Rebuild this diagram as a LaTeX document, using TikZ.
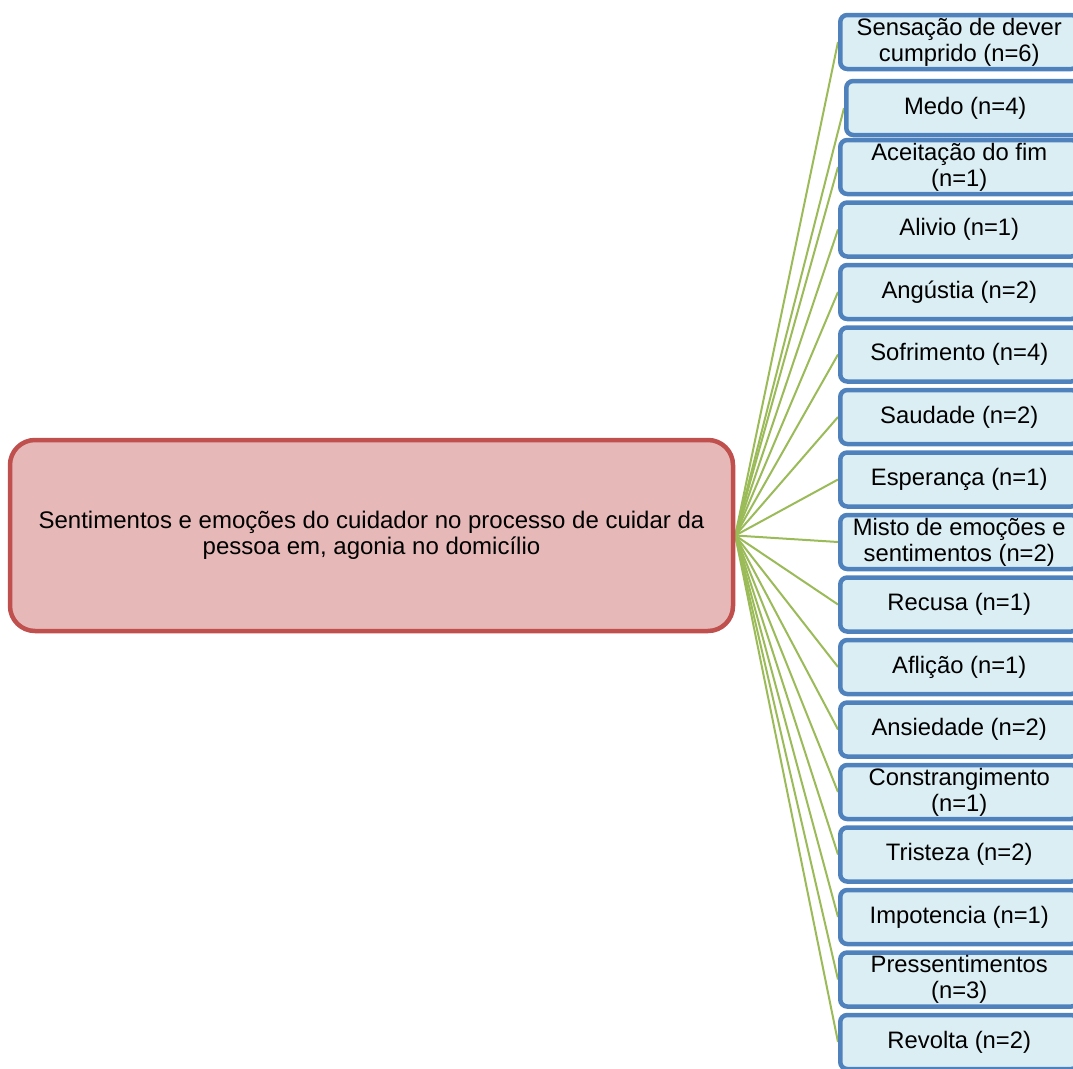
\documentclass[tikz,border=0pt]{standalone}
\usepackage{fontspec}
\setmainfont{Liberation Sans}
\definecolor{mainred}{HTML}{C0504D}
\definecolor{mainfill}{HTML}{E6B9B8}
\definecolor{leafblue}{HTML}{4F81BD}
\definecolor{leaffill}{HTML}{DBEEF4}
\definecolor{linkgreen}{HTML}{9BBB59}
\pgfdeclarelayer{bg}
\pgfsetlayers{bg,main}
\begin{document}
\begin{tikzpicture}[x=1pt,y=-1pt,
  mainbox/.style={draw=mainred, line width=4.5pt, fill=mainfill, rounded corners=25pt,
    minimum width=723pt, minimum height=191pt, align=center, inner sep=0pt,
    font=\fontsize{24}{25.5}\selectfont},
  leaf/.style={draw=leafblue, line width=4.5pt, fill=leaffill, rounded corners=7pt,
    minimum width=238pt, minimum height=54pt, align=center, inner sep=0pt, anchor=west,
    font=\fontsize{23.8}{26}\selectfont},
  link/.style={draw=linkgreen, line width=2pt}]
\useasboundingbox (0,0) rectangle (1073,1068);
\node[mainbox] (c) at (371.5,535.5) {Sentimentos e emoções do cuidador no processo de cuidar da\\pessoa em, agonia no domicílio};
\node[leaf] (l1) at (838,42) {Sensação de dever\\cumprido (n=6)};
\node[leaf] (l2) at (844,108) {Medo (n=4)};
\node[leaf] (l3) at (838,167) {Aceitação do fim\\(n=1)};
\node[leaf] (l4) at (838,229.5) {Alivio (n=1)};
\node[leaf] (l5) at (838,292) {Angústia (n=2)};
\node[leaf] (l6) at (838,354.5) {Sofrimento (n=4)};
\node[leaf] (l7) at (838,417) {Saudade (n=2)};
\node[leaf] (l8) at (838,479.5) {Esperança (n=1)};
\node[leaf] (l9) at (838,542) {Misto de emoções e\\sentimentos (n=2)};
\node[leaf] (l10) at (838,604.5) {Recusa (n=1)};
\node[leaf] (l11) at (838,667) {Aflição (n=1)};
\node[leaf] (l12) at (838,729.5) {Ansiedade (n=2)};
\node[leaf] (l13) at (838,792) {Constrangimento\\(n=1)};
\node[leaf] (l14) at (838,854.5) {Tristeza (n=2)};
\node[leaf] (l15) at (838,917) {Impotencia (n=1)};
\node[leaf] (l16) at (838,979.5) {Pressentimentos\\(n=3)};
\node[leaf] (l17) at (838,1042) {Revolta (n=2)};
\begin{pgfonlayer}{bg}
\foreach \i in {1,...,17} {\draw[link] (c.east) -- (l\i.west);}
\end{pgfonlayer}
\end{tikzpicture}
\end{document}
